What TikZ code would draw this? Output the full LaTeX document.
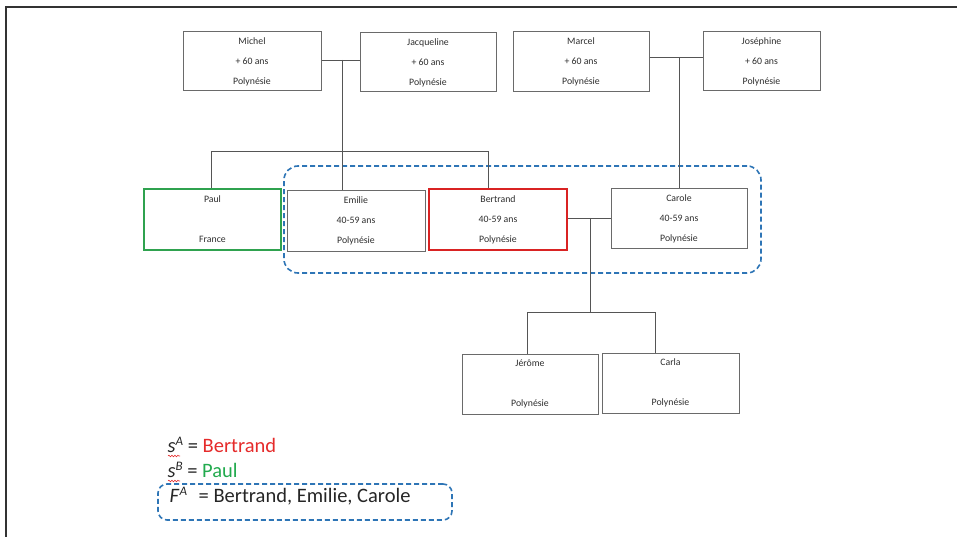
\documentclass[tikz,border=0pt]{standalone}
\usepackage{fontspec}
\setmainfont{Carlito}
\usetikzlibrary{decorations.pathmorphing}
\definecolor{boxgray}{HTML}{6A6A6A}
\definecolor{linegray}{HTML}{555555}
\definecolor{txtgray}{HTML}{2E2E2E}
\definecolor{famblue}{HTML}{2E75B6}
\definecolor{legred}{HTML}{E52B2B}
\definecolor{leggreen}{HTML}{22AA4E}
\definecolor{boxred}{HTML}{D92323}
\definecolor{boxgreen}{HTML}{2FA24F}
\newcommand{\supit}[1]{\raisebox{6.5pt}{\fontsize{13}{13}\selectfont\itshape #1}}
\begin{document}
\begin{tikzpicture}[x=1pt,y=-1pt,
  person/.style={draw=boxgray, line width=1pt, fill=white, inner sep=0pt,
    align=center, font=\fontsize{9.8}{20}\selectfont, text=txtgray,
    minimum width=137pt, minimum height=60pt},
  link/.style={draw=linegray, line width=0.9pt},
  famdash/.style={draw=famblue, line width=1.6pt, dash pattern=on 5pt off 3pt, rounded corners=14pt},
  legend/.style={font=\fontsize{20.5}{24}\selectfont, inner sep=0pt, text=black!85},
  squiggle/.style={draw=legred, line width=0.6pt, decorate, decoration={snake, amplitude=0.8pt, segment length=3pt}},
  frameline/.style={draw=black!80, line width=1.8pt}]
\useasboundingbox (0,0) rectangle (957,537);
% frame
\coordinate (frTL) at (6,7);
\coordinate (frTR) at (957,7);
\coordinate (frBL) at (6,537);
\draw[frameline] (frTR) -- (frTL) -- (frBL);

% family dashed box
\node[famdash, minimum width=477pt, minimum height=107pt, inner sep=0pt] (fam) at (522.5,219.5) {};

% grandparents
\node[person, minimum width=138pt, minimum height=59pt] (michel) at (252,61.5) {Michel\\+ 60 ans\\Polynésie};
\node[person, minimum width=136pt, minimum height=59pt] (jacqueline) at (428,62.5) {Jacqueline\\+ 60 ans\\Polynésie};
\node[person, minimum width=136pt] (marcel) at (581,62) {Marcel\\+ 60 ans\\Polynésie};
\node[person, minimum width=117pt, minimum height=59pt] (josephine) at (761.5,61.5) {Joséphine\\+ 60 ans\\Polynésie};

% middle generation
\node[person, draw=boxgreen, line width=1.8pt, minimum height=61pt] (paul) at (212.5,219.5) {Paul\\\strut\\France};
\node[person, minimum width=138pt] (emilie) at (356,221) {Emilie\\40-59 ans\\Polynésie};
\node[person, draw=boxred, line width=2.2pt, minimum width=138pt, minimum height=61pt] (bertrand) at (498,219.5) {Bertrand\\40-59 ans\\Polynésie};
\node[person, minimum width=136pt, minimum height=59pt] (carole) at (679,218.5) {Carole\\40-59 ans\\Polynésie};

% children
\node[person, minimum width=136pt] (jerome) at (530,384) {Jérôme\\\strut\\Polynésie};
\node[person] (carla) at (670.5,383) {Carla\\\strut\\Polynésie};

% connectors
\coordinate (mjline) at (342,60);
\draw[link] (michel.east |- mjline) -- (jacqueline.west |- mjline);
\coordinate (barL) at (211,151);
\coordinate (barR) at (488,151);
\draw[link] (mjline) -- (mjline |- emilie.north);
\draw[link] (barL |- paul.north) -- (barL) -- (barR) -- (barR |- bertrand.north);

\coordinate (mjline2) at (679,57);
\draw[link] (marcel.east |- mjline2) -- (josephine.west |- mjline2);
\draw[link] (mjline2) -- (mjline2 |- carole.north);

\coordinate (bcline) at (590,218);
\coordinate (cbL) at (527,312);
\coordinate (cbR) at (655,312);
\draw[link] (bertrand.east |- bcline) -- (carole.west |- bcline);
\draw[link] (bcline) -- (bcline |- cbL);
\draw[link] (cbL |- jerome.north) -- (cbL) -- (cbR) -- (cbR |- carla.north);

% legend
\node[legend, anchor=base west] (sa) at (167.5,452) {\textit{s}\supit{A} = \textcolor{legred}{Bertrand}};
\node[legend, anchor=base west] (sb) at (167.5,477) {\textit{s}\supit{B} = \textcolor{leggreen}{Paul}};
\node[legend, anchor=base west] (fa) at (169.5,502) {\textit{F}\supit{A}\hspace{7pt} = Bertrand, Emilie, Carole};
\node[famdash, rounded corners=9pt, minimum width=294pt, minimum height=36pt, inner sep=0pt] (fbox) at (305,502) {};
\coordinate (sqA1) at (168,456);
\coordinate (sqA2) at (180,456);
\coordinate (sqB1) at (168,481);
\coordinate (sqB2) at (180,481);
\draw[squiggle] (sqA1) -- (sqA2);
\draw[squiggle] (sqB1) -- (sqB2);
\end{tikzpicture}
\end{document}
